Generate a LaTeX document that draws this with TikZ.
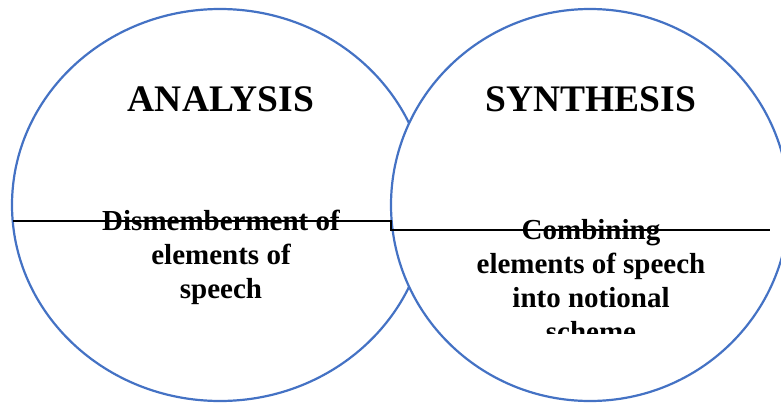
\documentclass[tikz,border=0pt]{standalone}
\usepackage{fontspec}
\setmainfont{Liberation Serif}
\usetikzlibrary{positioning}
\definecolor{Ring}{HTML}{4472C4}
\tikzset{ring/.style={draw=Ring,line width=2.2pt},
  head/.style={font=\fontsize{37.5}{40}\selectfont\bfseries,inner sep=0pt,anchor=base},
  body/.style={font=\fontsize{29}{34}\selectfont\bfseries,align=center,inner sep=0pt,anchor=base},
  rule/.style={draw=black,line width=1.4pt}}
\begin{document}
\begin{tikzpicture}[x=1pt,y=-1pt]
  \clip (0,0) rectangle (781,402);
  \draw[ring] (220,205) ellipse [x radius=208,y radius=196];
  \draw[ring,fill=white] (590,205) ellipse [x radius=199,y radius=196];
  \coordinate (ls) at (13,221);
  \coordinate (rs) at (391,230);
  \coordinate (re) at (770,230);
  \draw[rule] (ls) -| (rs) -- (re);
  \node[head] (ana) at (221,111) {ANALYSIS};
  \node[head] (syn) at (591,111) {SYNTHESIS};
  % base anchor sits on the last line
  \node[body] (dis) at (221,298) {Dismemberment of\\elements of\\speech};
  \begin{scope}
    \clip (390,0) rectangle (781,333);
    \node[body] (comb) at (591,341) {Combining\\elements of speech\\into notional\\scheme};
  \end{scope}
\end{tikzpicture}
\end{document}
